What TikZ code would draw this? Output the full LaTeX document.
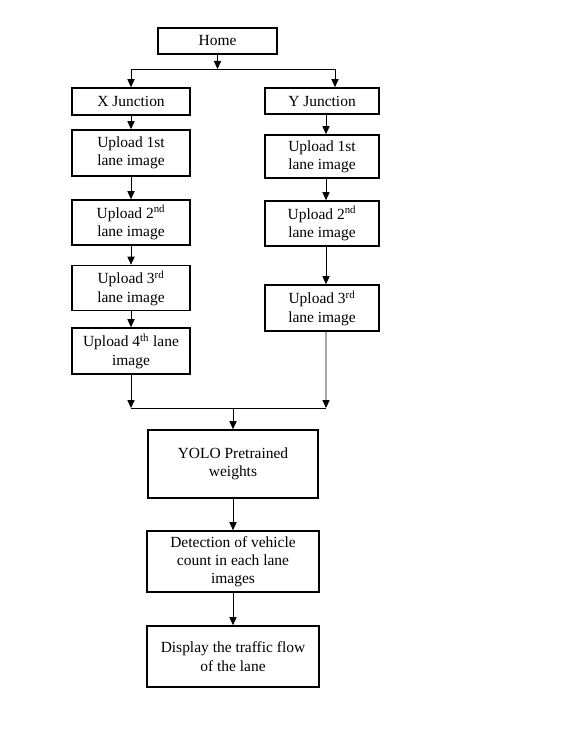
\documentclass[tikz,border=0pt]{standalone}
\usepackage{fontspec}
\setmainfont{Liberation Serif}
\usepackage{tikz}
\usetikzlibrary{arrows.meta,positioning,calc}

\begin{document}
\begin{tikzpicture}[
    x=0.025cm, y=-0.025cm,
    box/.style={rectangle, draw, line width=1.2pt, minimum width=2.95cm, font=\fontsize{11}{13}\selectfont, align=center, inner sep=1pt},
    ybox/.style={box, minimum width=2.85cm},
    big/.style={box, minimum width=4.3cm},
    arrow/.style={-{Triangle[length=2mm, width=1.8mm]}, line width=0.6pt},
    link/.style={line width=0.6pt}
]
\useasboundingbox (0,0) rectangle (561,735);

% Top of the chart
\node[box, minimum width=2.975cm, minimum height=0.65cm] (home) at (217.5,41) {Home};
\node[box, minimum height=0.675cm] (xj) at (131,101.5) {X Junction};
\node[ybox, minimum height=0.65cm] (yj) at (322,101) {Y Junction};

% X junction lanes
\node[box, minimum height=1.15cm] (x1) at (131,153) {Upload 1st\\lane image};
\node[box, minimum height=1.125cm] (x2) at (131,222.5) {Upload 2\textsuperscript{nd}\\lane image};
\node[box, minimum height=1.125cm] (x3) at (131,288) {Upload 3\textsuperscript{rd}\\lane image};
\node[box, minimum height=1.15cm] (x4) at (131,351) {Upload 4\textsuperscript{th} lane\\image};

% Y junction lanes
\node[ybox, minimum height=1.075cm] (y1) at (322,156.5) {Upload 1st\\lane image};
\node[ybox, minimum height=1.125cm] (y2) at (322,223.5) {Upload 2\textsuperscript{nd}\\lane image};
\node[ybox, minimum height=1.15cm] (y3) at (322,308) {Upload 3\textsuperscript{rd}\\lane image};

% Processing
\node[big, minimum width=4.25cm, minimum height=1.7cm] (yolo) at (233,464) {YOLO Pretrained\\weights};
\node[big, minimum height=1.525cm] (detect) at (233,561.5) {Detection of vehicle\\count in each lane\\images};
\node[big, minimum height=1.525cm] (show) at (233,656.5) {Display the traffic flow\\of the lane};

% Split below Home
\coordinate (split) at (217.5,69);
\coordinate (splitL) at (131,69);
\coordinate (splitR) at (335,69);
\draw[arrow] (home) -- (split);
\draw[link] (splitL) -- (splitR);
\draw[arrow] (splitL) -- (xj);
\draw[arrow] (splitR) -- (splitR |- yj.north);

% X column
\draw[arrow] (xj) -- (x1);
\draw[arrow] (x1) -- (x2);
\draw[arrow] (x2) -- (x3);
\draw[arrow] (x3) -- (x4);

% Y column
\draw[arrow] ([xshift=0.1cm]yj.south) -- ([xshift=0.1cm]y1.north);
\draw[arrow] ([xshift=0.1cm]y1.south) -- ([xshift=0.1cm]y2.north);
\draw[arrow] ([xshift=0.1cm]y2.south) -- ([xshift=0.1cm]y3.north);

% Merge
\coordinate (mergeL) at (131,408);
\coordinate (mergeR) at (326,408);
\coordinate (merge) at (233,408);
\draw[arrow] (x4) -- (mergeL);
\draw[arrow] ([xshift=0.1cm]y3.south) -- (mergeR);
\draw[link] (mergeL) -- (mergeR);
\draw[arrow] (merge) -- (yolo);

% Down to the result
\draw[arrow] (yolo) -- (detect);
\draw[arrow] (detect) -- (show);
\end{tikzpicture}
\end{document}
